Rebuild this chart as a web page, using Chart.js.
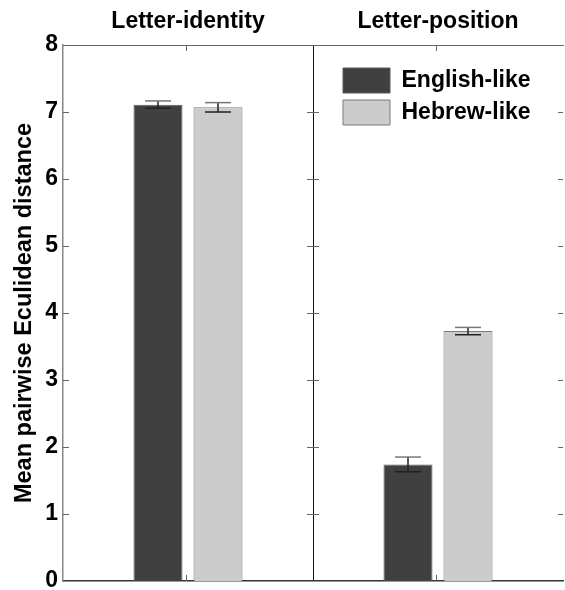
<!DOCTYPE html>
<html>
<head>
<meta charset="utf-8">
<script src="https://cdn.jsdelivr.net/npm/chart.js@4.4.1/dist/chart.umd.min.js"></script>
<style>
  html, body { margin: 0; padding: 0; background: #fff; }
  #wrap { width: 565px; height: 590px; }
</style>
</head>
<body>
<div id="wrap"><canvas id="distChart" width="565" height="590"></canvas></div>
<script>
const panels = ['Letter-identity', 'Letter-position'];
const englishMeans = [7.11, 1.74];
const englishErr = [0.055, 0.11];
const hebrewMeans = [7.07, 3.73];
const hebrewErr = [0.07, 0.055];
const yTicks = [0, 1, 2, 3, 4, 5, 6, 7, 8];

const FONT = "'Liberation Sans', Arial, Helvetica, sans-serif";

// error bars drawn on top of the bars, through the y scale
const errorBars = {
  id: 'errorBars',
  afterDatasetsDraw(chart) {
    const { ctx } = chart;
    const y = chart.scales.y;
    chart.data.datasets.forEach((ds, i) => {
      const meta = chart.getDatasetMeta(i);
      if (meta.hidden) return;
      meta.data.forEach((bar, j) => {
        const v = ds.data[j];
        const e = ds.errors[j];
        const yTop = y.getPixelForValue(v + e);
        const yBot = y.getPixelForValue(v - e);
        const cap = 13;
        ctx.save();
        ctx.lineWidth = 1.5;
        ctx.strokeStyle = '#222';
        ctx.beginPath();
        ctx.moveTo(bar.x, yTop);
        ctx.lineTo(bar.x, yBot);
        ctx.moveTo(bar.x - cap, yBot);
        ctx.lineTo(bar.x + cap, yBot);
        ctx.stroke();
        ctx.strokeStyle = '#777';
        ctx.beginPath();
        ctx.moveTo(bar.x - cap, yTop);
        ctx.lineTo(bar.x + cap, yTop);
        ctx.stroke();
        ctx.restore();
      });
    });
  }
};

// MATLAB-style inward tick marks on the panel edges
const innerTicks = {
  id: 'innerTicks',
  afterDatasetsDraw(chart) {
    const { ctx, chartArea: a } = chart;
    const y = chart.scales.y;
    const x = chart.scales.x;
    const mid = (x.getPixelForValue(0) + x.getPixelForValue(1)) / 2;
    ctx.save();
    ctx.strokeStyle = '#666';
    ctx.lineWidth = 1;
    ctx.beginPath();
    yTicks.slice(1, -1).forEach(t => {
      const py = Math.round(y.getPixelForValue(t)) + 0.5;
      ctx.moveTo(a.left, py); ctx.lineTo(a.left + 6, py);
      ctx.moveTo(mid - 6, py); ctx.lineTo(mid + 6, py);
      ctx.moveTo(a.right - 5, py); ctx.lineTo(a.right, py);
    });
    panels.forEach((p, i) => {
      const px = Math.round(x.getPixelForValue(i)) - 1.5;
      ctx.moveTo(px, a.top); ctx.lineTo(px, a.top + 6);
      ctx.moveTo(px, a.bottom); ctx.lineTo(px, a.bottom - 6);
    });
    ctx.stroke();
    ctx.restore();
  }
};

// put the legend box inside the right panel
const legendPlace = {
  id: 'legendPlace',
  afterLayout(chart) {
    if (!chart.legend) return;
    chart.legend.left = 336;
    chart.legend.top = 61;
  }
};

function renderChart() {
  const canvas = document.getElementById('distChart');
  if (!canvas || typeof Chart === 'undefined') return;

  new Chart(canvas, {
    type: 'bar',
    data: {
      labels: panels,
      datasets: [
        {
          label: 'English-like',
          data: englishMeans,
          errors: englishErr,
          backgroundColor: '#404040',
          borderColor: '#5a5a5a',
          borderWidth: 1,
          xAxisID: 'x'
        },
        {
          label: 'Hebrew-like',
          data: hebrewMeans,
          errors: hebrewErr,
          backgroundColor: '#cccccc',
          borderColor: '#7a7a7a',
          borderWidth: 1,
          xAxisID: 'x'
        }
      ]
    },
    options: {
      responsive: false,
      animation: false,
      devicePixelRatio: 1,
      layout: { padding: { right: 2 } },
      categoryPercentage: 0.48,
      barPercentage: 0.817,
      scales: {
        x: {
          type: 'category',
          position: 'top',
          afterFit: s => { s.height = 45; },
          grid: {
            offset: true,
            drawTicks: false,
            lineWidth: 1,
            color: c => (c.index === 1 ? '#111' : c.index === 2 ? '#999' : 'rgba(0,0,0,0)')
          },
          border: { display: true, color: '#666', width: 1 },
          ticks: {
            padding: 10,
            color: '#000',
            font: { family: FONT, size: 23, weight: 'bold' }
          }
        },
        xb: {
          type: 'category',
          position: 'bottom',
          afterFit: s => { s.height = 9; },
          grid: { display: false },
          border: { display: true, color: '#333', width: 1.5 },
          ticks: { display: false }
        },
        y: {
          min: 0,
          max: 8,
          afterFit: s => {
            s.width = 63;
            s.paddingTop = 0;
            s.paddingBottom = 0;
          },
          afterBuildTicks: s => { s.ticks = yTicks.map(v => ({ value: v })); },
          grid: { display: false, drawTicks: false },
          border: { display: true, color: '#888', width: 1.5 },
          ticks: {
            padding: 5,
            color: '#000',
            font: { family: FONT, size: 23, weight: 'bold' }
          },
          title: {
            display: true,
            text: 'Mean pairwise Eculidean distance',
            color: '#000',
            padding: { top: 10, bottom: 0 },
            font: { family: FONT, size: 23.5, weight: 'bold' }
          }
        }
      },
      plugins: {
        legend: {
          position: 'chartArea',
          align: 'start',
          labels: {
            boxWidth: 47,
            boxHeight: 25,
            padding: 7,
            color: '#000',
            font: { family: FONT, size: 23, weight: 'bold' }
          }
        },
        tooltip: { enabled: false }
      }
    },
    plugins: [errorBars, innerTicks, legendPlace]
  });
}

document.addEventListener('DOMContentLoaded', renderChart);
</script>
</body>
</html>
